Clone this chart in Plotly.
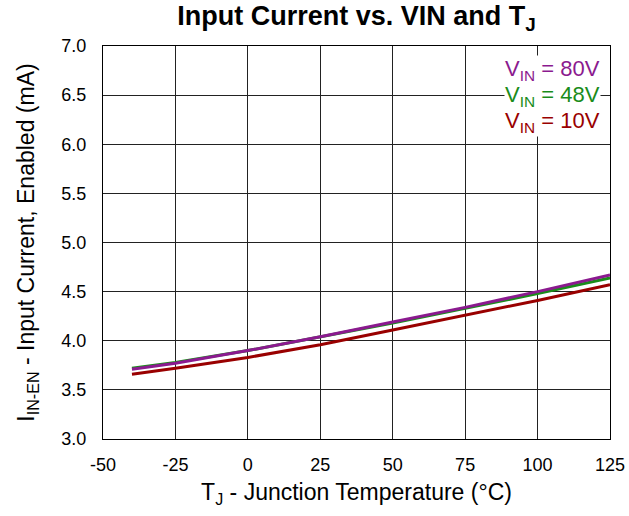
import plotly.graph_objects as go

temps = [-40, -25, 0, 25, 50, 75, 100, 125]
i_80v = [3.71, 3.77, 3.90, 4.04, 4.19, 4.34, 4.50, 4.67]
i_48v = [3.72, 3.78, 3.90, 4.04, 4.18, 4.33, 4.48, 4.64]
i_10v = [3.66, 3.72, 3.83, 3.96, 4.11, 4.26, 4.41, 4.57]

series = [
    ("V<sub>IN</sub> = 80V", i_80v, "#8B1A8F"),
    ("V<sub>IN</sub> = 48V", i_48v, "#1A8C1A"),
    ("V<sub>IN</sub> = 10V", i_10v, "#990000"),
]

x_ticks = [-50, -25, 0, 25, 50, 75, 100, 125]
y_ticks = [3.0, 3.5, 4.0, 4.5, 5.0, 5.5, 6.0, 6.5, 7.0]

W, H = 629, 516
ML, MR, MT, MB = 103, 19, 46, 77
plot_h = H - MT - MB

fig = go.Figure()
for name, vals, color in [series[2], series[1], series[0]]:
    fig.add_trace(go.Scatter(x=temps, y=vals, mode="lines", name=name,
                             line=dict(color=color, width=3)))

for k, (name, vals, color) in enumerate(series):
    fig.add_annotation(x=1, y=1 - (24 + 26 * k) / plot_h, xref="paper", yref="paper",
                       xanchor="right", yanchor="middle", xshift=-9,
                       text=name, showarrow=False, bgcolor="white",
                       borderpad=0,
                       font=dict(family="Arial, Liberation Sans", size=22, color=color))

fig.update_layout(
    width=W, height=H,
    margin=dict(l=ML, r=MR, t=MT, b=MB, autoexpand=False),
    paper_bgcolor="white", plot_bgcolor="white",
    showlegend=False,
    font=dict(family="Arial, Liberation Sans", color="black"),
    title=dict(text="<b>Input Current vs. VIN and T<sub>J</sub></b>",
               x=(ML + (W - ML - MR) / 2) / W, xanchor="center",
               y=1 - 16 / H, yanchor="middle", automargin=False,
               font=dict(size=27, color="black")),
    xaxis=dict(range=[-50, 125], tickvals=x_ticks, ticktext=[str(v) for v in x_ticks],
               showgrid=True, gridcolor="#222", gridwidth=1,
               showline=True, linecolor="black", linewidth=1, mirror=True,
               zeroline=False, ticks="", tickfont=dict(size=18),
               ticklabelstandoff=9, automargin=False,
               title=dict(text="T<sub>J</sub> - Junction Temperature (°C)",
                          font=dict(size=23), standoff=10)),
    yaxis=dict(range=[3.0, 7.0], tickvals=y_ticks, ticktext=[f"{v:.1f}" for v in y_ticks],
               showgrid=True, gridcolor="#222", gridwidth=1,
               showline=True, linecolor="black", linewidth=1, mirror=True,
               zeroline=False, ticks="", tickfont=dict(size=18),
               ticklabelstandoff=12, automargin=False,
               title=dict(text="I<sub>IN-EN</sub> - Input Current, Enabled (mA)",
                          font=dict(size=23), standoff=20)),
)

fig.write_html("out.html",
               config={"displayModeBar": False},
               post_script="document.body.style.margin='0';document.body.style.overflow='hidden';")
